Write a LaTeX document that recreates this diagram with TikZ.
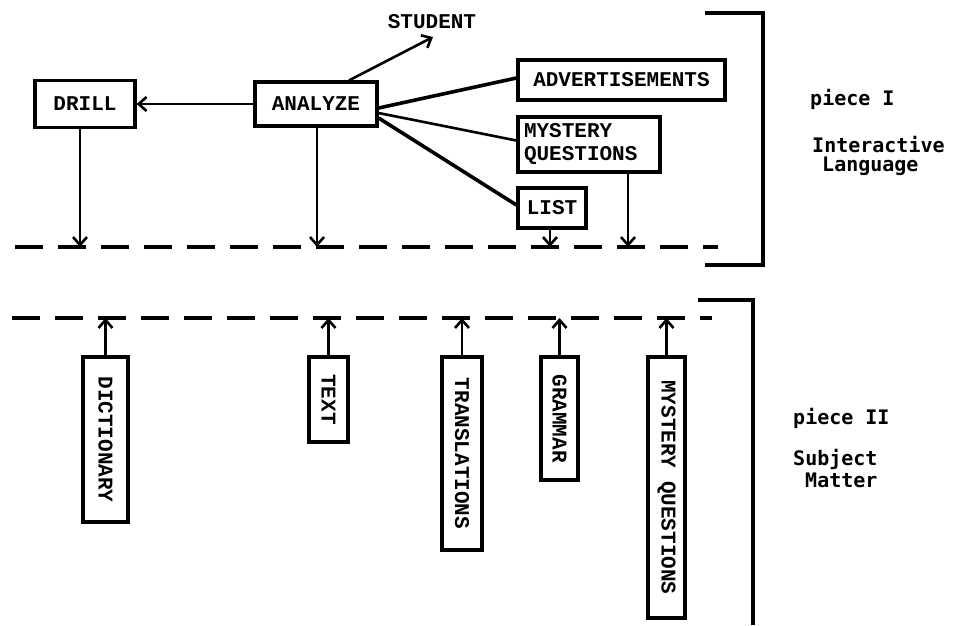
\documentclass[tikz,border=0pt]{standalone}
\usepackage{fontspec}
\setmonofont{Liberation Mono}
\newfontfamily\labfont{DejaVu Sans Mono}
\usetikzlibrary{arrows.meta,calc}
\begin{document}
\begin{tikzpicture}[x=1pt,y=-1pt,
  box/.style={draw, line width=3.2pt, inner sep=0pt, font=\ttfamily\bfseries\fontsize{21}{23}\selectfont},
  plain/.style={inner sep=0pt, font=\ttfamily\bfseries\fontsize{21}{23}\selectfont},
  conn/.style={line width=3.6pt},
  thinconn/.style={line width=2.6pt},
  arr/.style={line width=2.6pt, -{Straight Barb[length=8pt,width=14pt,line width=2.6pt]}},
  dashline/.style={line width=3.4pt, dash pattern=on 28pt off 15pt},
  brk/.style={line width=3.2pt},
  lab/.style={font=\labfont\bfseries\fontsize{20}{22}\selectfont, anchor=west, inner sep=0pt}
]
\useasboundingbox (0,0) rectangle (960,625);

% dashed separator lines
\coordinate (tl) at (0,247);
\coordinate (bl) at (0,318);
\draw[dashline] (15,247) -- (718,247);
\draw[dashline] (12,318) -- (712,318);

% brackets
\draw[brk] (705,13) -- (763,13) -- (763,265) -- (705,265);
\draw[brk] (698,300) -- (753,300) -- (753,625);

% piece I boxes
\node[box, minimum width=100pt, minimum height=47pt] (drill) at (85,104) {DRILL};
\node[box, minimum width=122pt, minimum height=44pt] (an) at (316,104) {ANALYZE};
\node[plain] (stu) at (432,22) {STUDENT};
\coordinate (stuarr) at (433,37);
\node[box, minimum width=207pt, minimum height=40pt] (adv) at (621.5,80) {ADVERTISEMENTS};
\node[box, text width=130pt, inner xsep=6pt, minimum height=55pt, align=left] (mq) at (589,144.5) {MYSTERY\\QUESTIONS};
\node[box, minimum width=68pt, minimum height=40pt] (list) at (552,208) {LIST};

% piece I connectors
\draw[arr] (an.west) -- (drill.east);
\draw[arr] ($(an.north)+(33,0)$) -- (stuarr);
\draw[conn] ($(an.east)+(0,4)$) -- ($(adv.west)+(0,-2)$);
\draw[thinconn] ($(an.east)+(0,9)$) -- ($(mq.west)+(0,-4)$);
\draw[conn] ($(an.east)+(0,14)$) -- ($(list.west)+(0,-3)$);

\coordinate (d1) at ($(drill.south)+(-5,0)$);
\draw[arr] (d1) -- (d1 |- tl);
\coordinate (d2) at ($(an.south)+(1,0)$);
\draw[arr] (d2) -- (d2 |- tl);
\coordinate (d3) at ($(list.south)+(-2,0)$);
\draw[arr] (d3) -- (d3 |- tl);
\coordinate (d4) at ($(mq.south)+(39,0)$);
\draw[arr] (d4) -- (d4 |- tl);

% piece II boxes (rotated)
\node[box, rotate=-90, minimum width=165pt, minimum height=45pt] (dict) at (105.5,439.5) {DICTIONARY};
\node[box, rotate=-90, minimum width=85pt, minimum height=39pt] (text) at (328.5,399.5) {TEXT};
\node[box, rotate=-90, minimum width=193pt, minimum height=40pt] (trans) at (462,453.5) {TRANSLATIONS};
\node[box, rotate=-90, minimum width=123pt, minimum height=37pt] (gram) at (559.5,418.5) {GRAMMAR};
\node[box, rotate=-90, minimum width=261pt, minimum height=37pt] (mq2) at (666.5,487.5) {MYSTERY QUESTIONS};

\foreach \n in {dict,text,trans,gram,mq2}{
  \draw[arr] (\n.west) -- (\n.west |- bl);
}

% right labels
\node[lab] (p1) at (810,99) {piece I};
\node[lab] (il1) at (812,145) {Interactive};
\node[lab] (il2) at (822,166) {Language};
\node[lab] (p2) at (793,418) {piece II};
\node[lab] (sm1) at (793,459) {Subject};
\node[lab] (sm2) at (805,480) {Matter};
\end{tikzpicture}
\end{document}
